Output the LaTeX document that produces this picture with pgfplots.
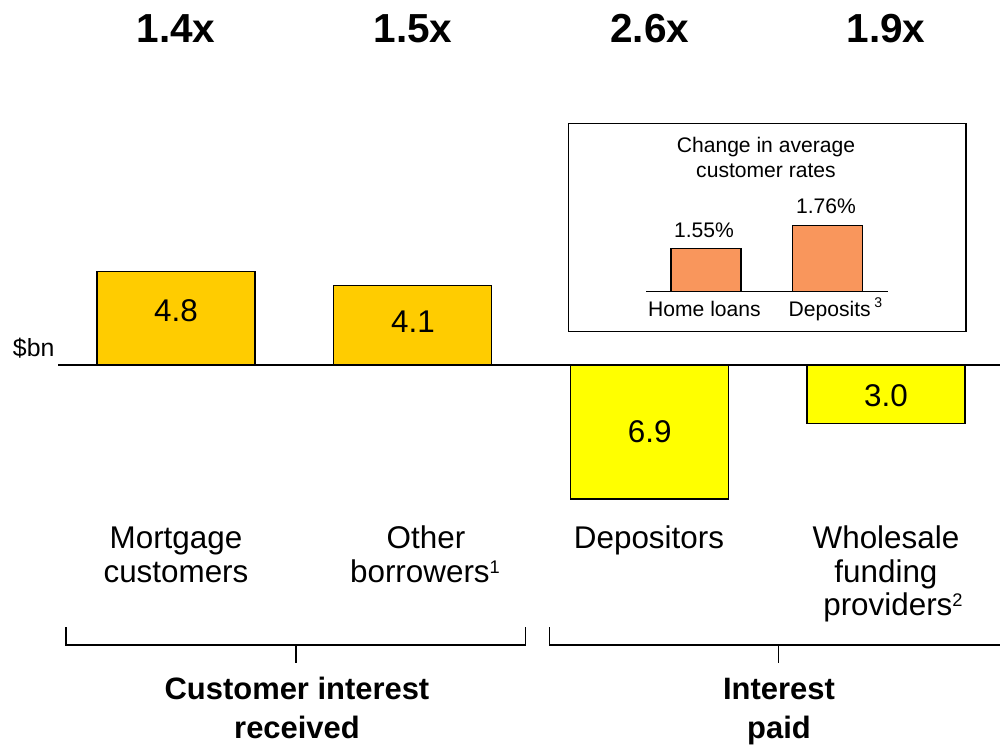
\documentclass[border=0pt]{standalone}
\usepackage{pgfplots}
\pgfplotsset{compat=1.18}
\usepackage{fontspec}
\setmainfont{Liberation Sans}
\definecolor{gold}{HTML}{FFCC00}
\definecolor{yel}{HTML}{FFFF00}
\definecolor{orng}{HTML}{F9965C}
\newcommand{\supnum}[1]{\raisebox{4pt}{\fontsize{7.8}{8}\selectfont #1}}
\begin{document}
\begin{tikzpicture}
\useasboundingbox (0,0) rectangle (15cm,11.175cm);
% main chart: pixel mapping x=(p-176)/236.7, y=(365-q)/19.43
\begin{axis}[at={(0,0)}, anchor=south west, scale only axis,
  width=15cm, height=11.175cm,
  xmin=-0.7436, xmax=3.481, ymin=-19.557, ymax=18.786,
  hide axis, clip=false,
  ybar, bar width=0.6675, bar shift=0pt]
\addplot[fill=gold, draw=black, line width=0.6pt] coordinates {(0,4.8) (1,4.1)};
\addplot[fill=yel, draw=black, line width=0.6pt] coordinates {(2,-6.9) (3,-3.0)};
\draw[line width=0.65pt] (axis cs:-0.4985,0) -- (axis cs:3.481,0);
\end{axis}
% inset chart
\begin{axis}[at={(9.69cm,6.7995cm)}, anchor=south west, scale only axis,
  width=3.63cm, height=1.0545cm,
  xmin=-0.493, xmax=1.4955, ymin=1.1467, ymax=1.80,
  axis x line=bottom, axis y line=none, xtick=\empty, ytick=\empty,
  axis line style={line width=0.6pt,-},
  ybar, bar width=0.575, bar shift=0pt]
\addplot[fill=orng, draw=black, line width=0.6pt] coordinates {(0,1.55) (1,1.76)};
\end{axis}
\begin{scope}[x=0.015cm, y=-0.015cm, yshift=11.175cm]
% top multipliers
\foreach \px/\t in {176/1.4x, 413/1.5x, 649.7/2.6x, 886/1.9x}
  \node[anchor=base, inner sep=0pt, font=\fontsize{17.3}{20}\selectfont\bfseries] at (\px,42.3) {\t};
% value labels
\begin{scope}[every node/.style={anchor=base, inner sep=0pt, font=\fontsize{13.4}{15}\selectfont}]
\node at (176,322) {4.8};
\node at (413,333) {4.1};
\node at (649.7,443) {6.9};
\node at (886,407) {3.0};
\node at (176,549) {Mortgage};
\node at (176,582.5) {customers};
\node at (426,549) {Other};
\node at (425,582.5) {borrowers\supnum{1}};
\node at (649,549) {Depositors};
\node at (886,549) {Wholesale};
\node at (886,582.5) {funding};
\node at (893,616) {providers\supnum{2}};
\end{scope}
\node[anchor=base west, inner sep=0pt, font=\fontsize{10.6}{12}\selectfont] at (12.5,357) {\$bn};
% inset frame and text
\draw[line width=0.6pt] (568.3,123.3) rectangle (966,331.7);
\begin{scope}[every node/.style={anchor=base, inner sep=0pt, font=\fontsize{9}{10}\selectfont}]
\node at (766,153) {Change in average};
\node at (766,178) {customer rates};
\node at (704,237.3) {1.55\%};
\node at (826,214) {1.76\%};
\node at (704.5,316.7) {Home loans};
\node at (836,316.3) {Deposits\,\textsuperscript{3}};
\end{scope}
% brackets
\draw[line width=0.65pt] (66,627.5) -- (66,645) -- (525.5,645) -- (525.5,627.5);
\draw[line width=0.65pt] (296,645) -- (296,663.3);
\draw[line width=0.65pt] (549.3,627.5) -- (549.3,645) -- (1000,645);
\draw[line width=0.65pt] (778.3,645) -- (778.3,663.3);
\begin{scope}[every node/.style={anchor=base, inner sep=0pt, font=\fontsize{13.2}{15}\selectfont\bfseries}]
\node at (297,700) {Customer interest};
\node at (297,738.3) {received};
\node at (779,700) {Interest};
\node at (779,738.3) {paid};
\end{scope}
\end{scope}
\end{tikzpicture}
\end{document}
